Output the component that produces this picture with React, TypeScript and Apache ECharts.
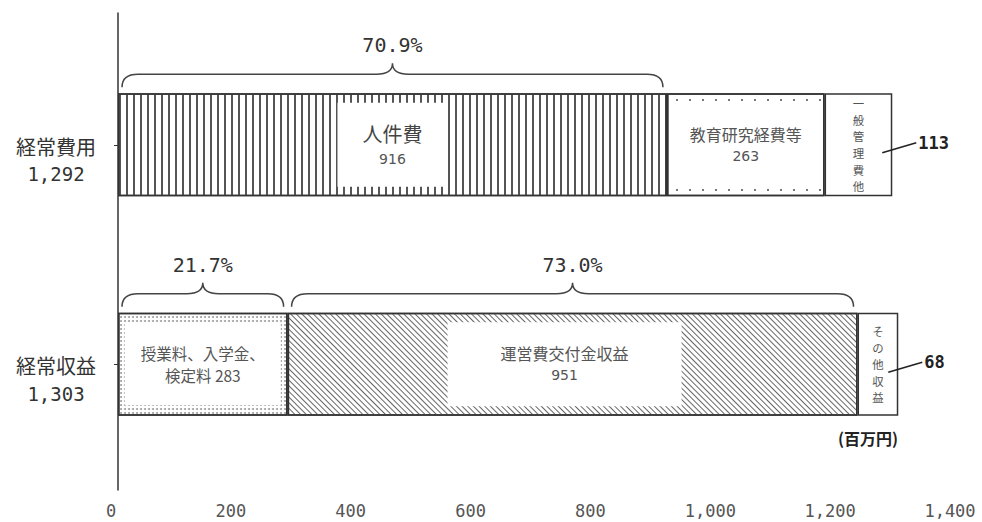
import React, { useEffect, useRef } from "react";
import * as echarts from "echarts";

// ---- data ----
const categories = ["経常費用", "経常収益"];
const totals = [1292, 1303];
const seg1Names = ["人件費", "授業料、入学金、\n検定料"];
const seg1Values = [916, 283];
const seg2Names = ["教育研究経費等", "運営費交付金収益"];
const seg2Values = [263, 951];
const seg3Names = ["一般管理費他", "その他収益"];
const seg3Values = [113, 68];
const xTicks = [0, 200, 400, 600, 800, 1000, 1200, 1400];
const unitLabel = "(百万円)";

// ---- styles ----
const JP = '"Noto Sans CJK JP", "Noto Sans", sans-serif';
const MONO = '"DejaVu Sans Mono", "Liberation Mono", monospace';
const BAR_H = 103;
const INK = "#333";

const fmt = (v: number) => v.toLocaleString("en-US");

const decalVLines = { symbol: "rect", symbolSize: 1, dashArrayX: [1.2, 4.2], dashArrayY: [1, 0], color: "#555" };
const decalSparseDots = { symbol: "rect", symbolSize: 1, dashArrayX: [1.4, 10.6], dashArrayY: [1.4, 6.6], color: "#777" };
const decalFineDots = { symbol: "circle", symbolSize: 1, dashArrayX: [1.3, 1.4], dashArrayY: [1.3, 1.4], color: "#a0a0a0" };
const decalDiag = { symbol: "rect", symbolSize: 1, dashArrayX: [1, 0], dashArrayY: [1, 2.9], rotation: Math.PI / 4, color: "#666" };

const rich = {
  n: { fontSize: 20, lineHeight: 28, color: "#444", fontFamily: JP },
  v: { fontSize: 14, lineHeight: 22, color: "#555", fontFamily: "DejaVu Sans, sans-serif" },
  m: { fontSize: 16, lineHeight: 22, color: "#555", fontFamily: JP },
  s: { fontSize: 15.5, lineHeight: 22, color: "#555", fontFamily: JP },
  t: { fontSize: 11.4, lineHeight: 16.6, color: "#555", fontFamily: JP },
};

const boxLabel = (formatter: string, padding: number[], offset: number[] = [0, 0]) => ({
  show: true,
  position: "inside",
  formatter,
  backgroundColor: "#fff",
  padding,
  offset,
  rich,
});

const vertLabel = (name: string) => ({
  show: true,
  position: "inside",
  formatter: name.split("").map((c) => `{t|${c}}`).join("\n"),
  rich,
});

const itemBase = { color: "#fff", borderColor: INK, borderWidth: 1.5 };

export default function App() {
  const ref = useRef<HTMLDivElement>(null);
  useEffect(() => {
    document.body.style.margin = "0";
    if (!ref.current) return;
    const chart = echarts.init(ref.current, null, { renderer: "svg" });

    const seg1Data = [
      {
        value: seg1Values[0],
        itemStyle: { ...itemBase, decal: decalVLines },
        label: boxLabel(`{n|${seg1Names[0]}}\n{v|${seg1Values[0]}}`, [17, 25]),
      },
      {
        value: seg1Values[1],
        itemStyle: { ...itemBase, decal: decalFineDots },
        label: boxLabel(
          seg1Names[1]
            .split("\n")
            .map((l, i, a) => (i === a.length - 1 ? `{s|${l} ${seg1Values[1]}}` : `{s|${l}}`))
            .join("\n"),
          [19, 16]
        ),
      },
    ];
    const seg2Data = [
      {
        value: seg2Values[0],
        itemStyle: { ...itemBase, decal: decalSparseDots },
        label: boxLabel(`{m|${seg2Names[0]}}\n{v|${seg2Values[0]}}`, [19, 20]),
      },
      {
        value: seg2Values[1],
        itemStyle: { ...itemBase, decal: decalDiag },
        label: boxLabel(`{m|${seg2Names[1]}}\n{v|${seg2Values[1]}}`, [20, 53], [-8, 0]),
      },
    ];
    const seg3Data = [
      { value: seg3Values[0], itemStyle: { ...itemBase }, label: vertLabel(seg3Names[0]) },
      { value: seg3Values[1], itemStyle: { ...itemBase }, label: vertLabel(seg3Names[1]) },
    ];

    // braces: [start, end, categoryIndex]
    const braces = [
      [0, seg1Values[0], 0],
      [0, seg1Values[1], 1],
      [seg1Values[1], seg1Values[1] + seg2Values[1], 1],
    ];
    const braceText = [
      ((seg1Values[0] / totals[0]) * 100).toFixed(1) + "%",
      ((seg1Values[1] / totals[1]) * 100).toFixed(1) + "%",
      ((seg2Values[1] / totals[1]) * 100).toFixed(1) + "%",
    ];
    const leaders = [
      [seg1Values[0] + seg2Values[0] + seg3Values[0], 0, seg3Values[0]],
      [seg1Values[1] + seg2Values[1] + seg3Values[1], 1, seg3Values[1]],
    ];

    chart.setOption({
      animation: false,
      grid: [
        { left: 118, right: 25, top: 35, bottom: 48 },
        { left: 118, right: 25, top: 13, bottom: 32 },
      ],
      xAxis: [
        { type: "value", gridIndex: 0, min: 0, max: 1400, interval: 200, show: false },
        {
          type: "value",
          gridIndex: 1,
          min: xTicks[0],
          max: xTicks[xTicks.length - 1],
          interval: xTicks[1] - xTicks[0],
          axisLine: { show: false },
          axisTick: { show: false },
          splitLine: { show: false },
          axisLabel: {
            margin: 12,
            fontFamily: MONO,
            fontSize: 17,
            color: "#555",
            padding: [0, 14, 0, 0],
            formatter: (v: number) => fmt(v),
          },
        },
      ],
      yAxis: [
        {
          type: "category",
          gridIndex: 0,
          data: categories,
          inverse: true,
          axisLine: { show: false },
          axisTick: { show: true, alignWithLabel: true, length: 4, lineStyle: { color: INK } },
          splitLine: { show: false },
          axisLabel: {
            margin: 62,
            align: "center",
            padding: [31, 0, 0, 0],
            formatter: (v: string, i: number) => `{a|${v}}\n{b|${fmt(totals[i])}}`,
            rich: {
              a: { fontSize: 20, lineHeight: 28, color: INK, fontFamily: JP },
              b: { fontSize: 19, lineHeight: 28, color: INK, fontFamily: MONO },
            },
          },
        },
        {
          type: "value",
          gridIndex: 1,
          min: 0,
          max: 1,
          axisLine: { show: true, lineStyle: { color: INK, width: 1.5 } },
          axisTick: { show: false },
          axisLabel: { show: false },
          splitLine: { show: false },
        },
      ],
      series: [
        { type: "bar", stack: "t", xAxisIndex: 0, yAxisIndex: 0, barWidth: BAR_H, data: seg1Data },
        { type: "bar", stack: "t", xAxisIndex: 0, yAxisIndex: 0, barWidth: BAR_H, data: seg2Data },
        { type: "bar", stack: "t", xAxisIndex: 0, yAxisIndex: 0, barWidth: BAR_H, data: seg3Data },
        {
          type: "custom",
          xAxisIndex: 0,
          yAxisIndex: 0,
          z: 5,
          encode: { x: [0, 1], y: 2 },
          data: braces,
          renderItem: (params: any, api: any) => {
            const s = api.value(0), e = api.value(1), c = api.value(2);
            const a = api.coord([s, c]);
            const b = api.coord([e, c]);
            const top = a[1] - BAR_H / 2;
            const x1 = a[0] + 4, x2 = b[0] - 4, xm = (x1 + x2) / 2;
            const yEnd = top - 6, yArm = top - 19, yTip = top - 30;
            const r = 16;
            const d =
              `M${x1},${yEnd} Q${x1},${yArm} ${x1 + r},${yArm} L${xm - r},${yArm} ` +
              `Q${xm},${yArm} ${xm},${yTip} Q${xm},${yArm} ${xm + r},${yArm} ` +
              `L${x2 - r},${yArm} Q${x2},${yArm} ${x2},${yEnd}`;
            return {
              type: "group",
              children: [
                { type: "path", shape: { pathData: d }, style: { fill: "none", stroke: "#444", lineWidth: 1.5 } },
                {
                  type: "text",
                  x: xm,
                  y: top - 48,
                  style: {
                    text: braceText[params.dataIndex],
                    fontSize: 20,
                    fontFamily: MONO,
                    fill: INK,
                    align: "center",
                    verticalAlign: "middle",
                  },
                },
              ],
            };
          },
        },
        {
          type: "custom",
          xAxisIndex: 0,
          yAxisIndex: 0,
          z: 5,
          encode: { x: 0, y: 1 },
          data: leaders,
          renderItem: (params: any, api: any) => {
            const p = api.coord([api.value(0), api.value(1)]);
            return {
              type: "group",
              children: [
                {
                  type: "line",
                  shape: { x1: p[0] - 10, y1: p[1] + 8, x2: p[0] + 24, y2: p[1] - 2 },
                  style: { stroke: "#222", lineWidth: 1.5 },
                },
                {
                  type: "text",
                  x: p[0] + 26,
                  y: p[1] - 2,
                  style: {
                    text: String(api.value(2)),
                    fontSize: 17,
                    fontWeight: "bold",
                    fontFamily: MONO,
                    fill: "#222",
                    align: "left",
                    verticalAlign: "middle",
                  },
                },
              ],
            };
          },
        },
      ],
      graphic: [
        {
          type: "text",
          right: 84,
          top: 430,
          style: { text: unitLabel, fontSize: 16, fontWeight: "bold", fontFamily: JP, fill: "#222" },
        },
      ],
    });
    return () => chart.dispose();
  }, []);
  return <div ref={ref} style={{ width: 982, height: 522 }} />;
}
